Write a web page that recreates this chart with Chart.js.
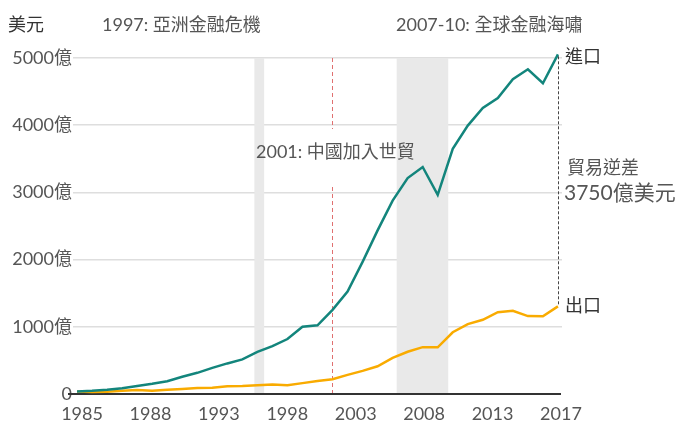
<!DOCTYPE html>
<html>
<head>
<meta charset="utf-8">
<script src="https://cdn.jsdelivr.net/npm/chart.js@4"></script>
<style>
  body { margin: 0; background: #fff; }
  #wrap { width: 678px; height: 426px; position: relative; }
</style>
</head>
<body>
<div id="wrap"><canvas id="chart-trade"></canvas></div>
<script>
// data (億美元)
const years = [1985,1986,1987,1988,1989,1990,1991,1992,1993,1994,1995,1996,1997,1998,1999,2000,
  2001,2002,2003,2004,2005,2006,2007,2008,2009,2010,2011,2012,2013,2014,2015,2016,2017]
const imports = [39,48,63,85,120,152,190,257,315,388,455,515,626,712,818,1000,
  1023,1252,1524,1967,2435,2878,3214,3378,2964,3649,3994,4256,4404,4685,4832,4624,5055]
const exports = [38,31,35,50,58,48,63,74,88,93,117,120,129,142,131,162,
  192,221,284,344,412,537,629,697,695,919,1041,1105,1217,1237,1159,1156,1304]
const xTickLabels = ['1985','1988','1993','1998','2003','2008','2013','2017']
const yTicks = [0,1000,2000,3000,4000,5000]

// crisis bands and WTO marker
const bands = [[1996.8, 1997.45], [2006.27, 2009.7]]
const wtoYear = 2001.95

const FONT = 'Lato, "Noto Sans CJK TC", sans-serif'
const TEAL = '#13857c'
const ORANGE = '#f9ab00'

const xMin = 1984.73, xMax = 2017.27

/* fond gris + lignes */
const decorPlugin = {
  id: 'decor',
  beforeDatasetsDraw(chart) {
    const ctx = chart.ctx
    const x = chart.scales.x, y = chart.scales.y
    const top = chart.chartArea.top, bottom = y.getPixelForValue(0)
    ctx.save()
    ctx.fillStyle = '#e9e9e9'
    bands.forEach(b => {
      const x0 = x.getPixelForValue(b[0]), x1 = x.getPixelForValue(b[1])
      ctx.fillRect(x0, top, x1 - x0, bottom - top)
    })
    // ligne 2001
    const wx = Math.round(x.getPixelForValue(wtoYear)) + 0.5
    ctx.strokeStyle = '#e07070'
    ctx.lineWidth = 1
    ctx.setLineDash([4, 3])
    ctx.beginPath()
    ctx.moveTo(wx, top); ctx.lineTo(wx, 129)
    ctx.moveTo(wx, 187); ctx.lineTo(wx, bottom)
    ctx.stroke()
    // axe zero
    ctx.setLineDash([])
    ctx.strokeStyle = '#333'
    ctx.lineWidth = 2
    ctx.beginPath()
    ctx.moveTo(68, bottom); ctx.lineTo(chart.chartArea.right - 1, bottom)
    ctx.stroke()
    ctx.restore()
  },
  afterDatasetsDraw(chart) {
    const ctx = chart.ctx
    const x = chart.scales.x, y = chart.scales.y
    const last = years.length - 1
    const lx = Math.round(x.getPixelForValue(years[last])) + 0.5
    const yImp = y.getPixelForValue(imports[last])
    const yExp = y.getPixelForValue(exports[last])
    ctx.save()
    // ecart commercial
    ctx.strokeStyle = '#444'
    ctx.lineWidth = 1
    ctx.setLineDash([3, 2])
    ctx.beginPath()
    ctx.moveTo(lx, yImp + 2); ctx.lineTo(lx, yExp - 2)
    ctx.stroke()
    ctx.setLineDash([])
    // textes
    ctx.textBaseline = 'middle'
    ctx.textAlign = 'left'
    ctx.fillStyle = '#333'
    ctx.font = '18px ' + FONT
    ctx.fillText('美元', 8, 25)
    ctx.fillText('進口', 565, yImp + 3)
    ctx.fillText('出口', 565, yExp)
    ctx.fillStyle = '#555'
    ctx.fillText('1997: 亞洲金融危機', 102, 25)
    ctx.fillText('2007-10: 全球金融海嘯', 396, 25)
    ctx.fillText('2001: 中國加入世貿', 256, 152)
    ctx.fillText('貿易逆差', 567, 168)
    ctx.font = '21px ' + FONT
    ctx.fillText('3750億美元', 564, 193)
    ctx.restore()
  }
}

const ctx = document.getElementById('chart-trade')

new Chart(ctx, {
  type: 'line',
  data: {
    datasets: [{
      label: '進口',
      data: years.map((yr, i) => ({ x: yr, y: imports[i] })),
      borderColor: TEAL,
      borderWidth: 2.5,
      pointRadius: 0,
      clip: false
    }, {
      label: '出口',
      data: years.map((yr, i) => ({ x: yr, y: exports[i] })),
      borderColor: ORANGE,
      borderWidth: 2.5,
      pointRadius: 0,
      clip: false
    }]
  },
  options: {
    responsive: true,
    maintainAspectRatio: false,
    animation: false,
    layout: { padding: { left: 0, right: 116, top: 58, bottom: 0 } },
    plugins: {
      legend: { display: false },
      tooltip: { enabled: false }
    },
    scales: {
      x: {
        type: 'linear',
        min: xMin,
        max: xMax,
        grid: { display: false, drawTicks: false },
        border: { display: false },
        afterFit(axis) { axis.height = 32 },
        afterBuildTicks(axis) {
          // labels evenly spread under the axis
          const a = 1985.33, b = 2017.2
          axis.ticks = xTickLabels.map((l, i) => ({ value: a + (b - a) * i / (xTickLabels.length - 1) }))
        },
        ticks: {
          autoSkip: false,
          maxRotation: 0,
          padding: 9,
          color: '#555',
          font: { family: FONT, size: 18 },
          callback: (v, i) => xTickLabels[i]
        }
      },
      y: {
        min: 0,
        max: 5000,
        afterFit(axis) { axis.width = 73 },
        afterBuildTicks(axis) {
          axis.ticks = yTicks.map(v => ({ value: v }))
        },
        grid: {
          color: c => c.tick.value === 0 ? 'rgba(0,0,0,0)' : '#dedede',
          lineWidth: 1.5,
          drawTicks: false
        },
        border: { display: false },
        ticks: {
          padding: 1,
          color: '#555',
          font: { family: FONT, size: 18 },
          callback: v => v === 0 ? '0' : v + '億'
        }
      }
    }
  },
  plugins: [decorPlugin]
})
</script>
</body>
</html>
